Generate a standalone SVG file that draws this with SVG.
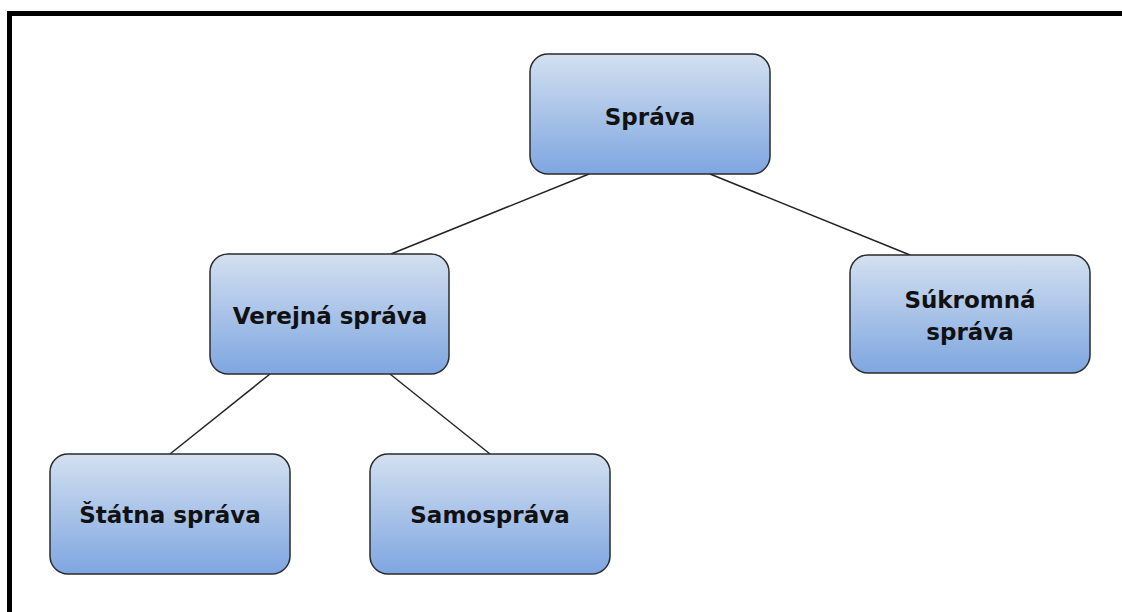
<svg xmlns="http://www.w3.org/2000/svg" width="1122" height="612" viewBox="0 0 1122 612">
<style>
.box{fill:url(#g);stroke:#2b2b2b;stroke-width:1.5}
.t{font-family:"DejaVu Sans",sans-serif;font-weight:bold;font-size:23px;fill:#111;text-anchor:middle}
.c{stroke:#222;stroke-width:1.5;fill:none}
</style>
<defs>
<linearGradient id="g" x1="0" y1="0" x2="0" y2="1">
<stop offset="0" stop-color="#d3e0f0"/>
<stop offset="1" stop-color="#7ea6e0"/>
</linearGradient>
</defs>
<rect width="1122" height="612" fill="#fff"/>
<path d="M9.5 612 V13.5 H1122" fill="none" stroke="#000" stroke-width="5"/>
<g id="connectors">
<line class="c" x1="589" y1="174" x2="391" y2="254"/>
<line class="c" x1="710" y1="174" x2="910" y2="255"/>
<line class="c" x1="270" y1="374" x2="170" y2="454"/>
<line class="c" x1="390" y1="374" x2="490" y2="454"/>
</g>
<g id="sprava">
<rect class="box" x="530" y="54" width="240" height="120" rx="18"/>
<text class="t" x="650" y="125">Správa</text>
</g>
<g id="verejna">
<rect class="box" x="210" y="254" width="239" height="120" rx="18"/>
<text class="t" x="330" y="324">Verejná správa</text>
</g>
<g id="sukromna">
<rect class="box" x="850" y="255" width="240" height="118" rx="18"/>
<text class="t" x="970" y="308">Súkromná</text>
<text class="t" x="970" y="340">správa</text>
</g>
<g id="statna">
<rect class="box" x="50" y="454" width="240" height="120" rx="18"/>
<text class="t" x="170" y="523">Štátna správa</text>
</g>
<g id="samosprava">
<rect class="box" x="370" y="454" width="240" height="120" rx="18"/>
<text class="t" x="490" y="523">Samospráva</text>
</g>
</svg>
